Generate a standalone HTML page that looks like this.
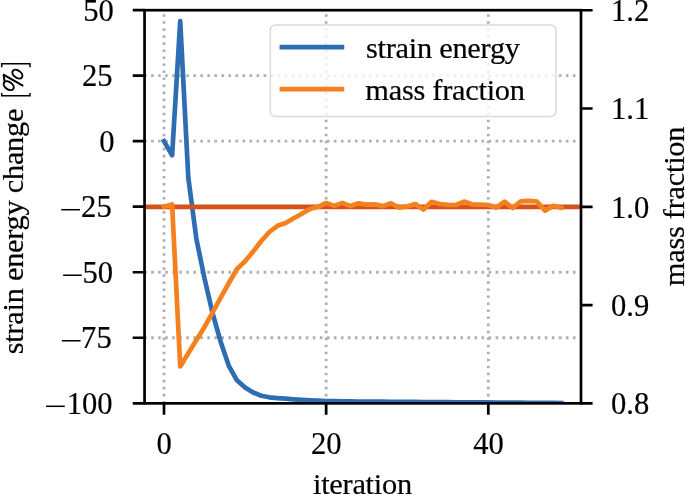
<!DOCTYPE html>
<html><head><meta charset="utf-8"><style>
html,body{margin:0;padding:0;background:#fff;overflow:hidden;}
svg{display:block;will-change:transform;}
text{font-family:"Liberation Serif",serif;fill:#000;stroke:#000;stroke-width:0.2px;}
.t{font-size:30.6px;}
.l{font-size:30.4px;letter-spacing:-0.27px;}
</style></head><body>
<svg width="685" height="495" viewBox="0 0 685 495">
<line x1="144.08" y1="75.67" x2="581.0" y2="75.67" stroke="#b0b0b0" stroke-width="2.8" stroke-dasharray="2.6 4.43"/>
<line x1="144.08" y1="141.20" x2="581.0" y2="141.20" stroke="#b0b0b0" stroke-width="2.8" stroke-dasharray="2.6 4.43"/>
<line x1="144.08" y1="206.72" x2="581.0" y2="206.72" stroke="#b0b0b0" stroke-width="2.8" stroke-dasharray="2.6 4.43"/>
<line x1="144.08" y1="272.25" x2="581.0" y2="272.25" stroke="#b0b0b0" stroke-width="2.8" stroke-dasharray="2.6 4.43"/>
<line x1="144.08" y1="337.77" x2="581.0" y2="337.77" stroke="#b0b0b0" stroke-width="2.8" stroke-dasharray="2.6 4.43"/>
<line x1="164.00" y1="403.48" x2="164.00" y2="10.2" stroke="#b0b0b0" stroke-width="2.8" stroke-dasharray="2.6 4.43"/>
<line x1="326.15" y1="403.48" x2="326.15" y2="10.2" stroke="#b0b0b0" stroke-width="2.8" stroke-dasharray="2.6 4.43"/>
<line x1="488.30" y1="403.48" x2="488.30" y2="10.2" stroke="#b0b0b0" stroke-width="2.8" stroke-dasharray="2.6 4.43"/>
<defs><clipPath id="ax"><rect x="144.1" y="10.2" width="437" height="393.3"/></clipPath></defs>
<g clip-path="url(#ax)">
<polyline points="164.00,141.20 172.11,155.30 180.22,21.20 188.32,177.90 196.43,239.20 204.54,278.50 212.64,313.50 220.75,342.00 228.86,366.00 236.97,380.30 245.07,387.40 253.18,392.50 261.29,395.80 269.40,397.30 277.50,398.20 285.61,398.70 293.72,399.30 301.83,399.80 309.94,400.30 318.04,400.70 326.15,401.00 334.26,401.20 342.37,401.40 350.47,401.46 358.58,401.52 366.69,401.58 374.79,401.64 382.90,401.70 391.01,401.76 399.12,401.81 407.23,401.87 415.33,401.93 423.44,401.99 431.55,402.05 439.65,402.11 447.76,402.17 455.87,402.23 463.98,402.29 472.08,402.35 480.19,402.41 488.30,402.47 496.41,402.53 504.51,402.59 512.62,402.64 520.73,402.70 528.84,402.76 536.94,402.82 545.05,402.88 553.16,402.94 561.27,403.00" fill="none" stroke="#2f6db3" stroke-width="4.7" stroke-linejoin="round" stroke-linecap="square"/>
<line x1="144.55" y1="206.8" x2="581.0" y2="206.8" stroke="#d6521b" stroke-width="4.7"/>
<polyline points="164.00,206.80 172.11,204.50 180.22,366.50 188.32,353.30 196.43,340.10 204.54,326.90 212.64,312.50 220.75,297.50 228.86,283.00 236.97,269.00 245.07,261.30 253.18,251.50 261.29,241.00 269.40,232.00 277.50,225.80 285.61,223.00 293.72,218.20 301.83,213.80 309.94,209.00 318.04,206.80 326.15,203.00 334.26,205.85 342.37,202.85 350.47,206.10 358.58,203.35 366.69,204.60 374.79,204.40 382.90,206.10 391.01,203.30 399.12,207.70 407.23,206.50 415.33,204.00 423.44,209.60 431.55,201.80 439.65,204.00 447.76,204.80 455.87,205.00 463.98,201.60 472.08,204.30 480.19,204.60 488.30,205.00 496.41,207.70 504.51,201.60 512.62,208.00 520.73,201.30 528.84,200.90 536.94,201.50 545.05,210.60 553.16,205.90 561.27,207.70" fill="none" stroke="#f5801e" stroke-width="4.7" stroke-linejoin="round" stroke-linecap="square"/>
</g>
<rect x="144.55" y="10.2" width="436.45" height="393.15" fill="none" stroke="#000" stroke-width="2.7"/>
<path d="M132.7 10.15H144.55 M132.7 75.67H144.55 M132.7 141.20H144.55 M132.7 206.72H144.55 M132.7 272.25H144.55 M132.7 337.77H144.55 M132.7 403.30H144.55 M581.0 10.25H592.6 M581.0 108.52H592.6 M581.0 206.80H592.6 M581.0 305.07H592.6 M581.0 403.35H592.6 M164.00 403.35V414.7 M326.15 403.35V414.7 M488.30 403.35V414.7" stroke="#000" stroke-width="2.7" fill="none"/>
<rect x="270.3" y="25" width="285.7" height="91.5" rx="5" ry="5" fill="#fff" fill-opacity="0.8" stroke="#dadada" stroke-width="1.5"/>
<line x1="281.9" y1="47.1" x2="341.9" y2="47.1" stroke="#2f6db3" stroke-width="4.7" stroke-linecap="square"/>
<line x1="281.9" y1="89.2" x2="341.9" y2="89.2" stroke="#f5801e" stroke-width="4.7" stroke-linecap="square"/>
<text class="l" x="366.0" y="57.6">strain energy</text>
<text class="l" x="365.3" y="99.6">mass fraction</text>
<text class="t" x="113.86" y="20.55" text-anchor="end" >50</text>
<text class="t" x="112.49" y="86.07" text-anchor="end" >25</text>
<text class="t" x="114.56" y="151.60" text-anchor="end" >0</text>
<text class="t" x="111.69" y="217.12" text-anchor="end" >25</text>
<rect x="61.24" y="208.97" width="18.7" height="1.5" fill="#000"/>
<text class="t" x="113.16" y="282.65" text-anchor="end" >50</text>
<rect x="63.14" y="274.50" width="18.7" height="1.5" fill="#000"/>
<text class="t" x="111.69" y="348.17" text-anchor="end" >75</text>
<rect x="61.91" y="340.02" width="18.7" height="1.5" fill="#000"/>
<text class="t" x="112.56" y="413.70" text-anchor="end" >100</text>
<rect x="46.06" y="405.55" width="18.7" height="1.5" fill="#000"/>
<text class="t" x="611.00" y="21.05" text-anchor="start" >1.2</text>
<text class="t" x="611.00" y="119.32" text-anchor="start" >1.1</text>
<text class="t" x="611.00" y="217.60" text-anchor="start" >1.0</text>
<text class="t" x="611.00" y="315.88" text-anchor="start" >0.9</text>
<text class="t" x="611.00" y="414.15" text-anchor="start" >0.8</text>
<text class="t" x="164.20" y="453.60" text-anchor="middle" >0</text>
<text class="t" x="326.35" y="453.60" text-anchor="middle" >20</text>
<text class="t" x="488.50" y="453.60" text-anchor="middle" >40</text>
<text class="l" x="362.40" y="493.90" text-anchor="middle" >iteration</text>
<text class="l" x="23.40" y="354.30" text-anchor="start" transform="rotate(-90 23.4 354.3)">strain energy change</text>
<path d="M1.7 67.3V63.75H30.0V67.3 M1.7 93.1V95.75H30.0V93.1" fill="none" stroke="#000" stroke-width="1.5"/>
<g fill="none" stroke="#000" stroke-width="2.0"><ellipse cx="8.7" cy="85.7" rx="5.6" ry="3.6" transform="rotate(36 8.7 85.7)"/><ellipse cx="17.4" cy="74.1" rx="5.6" ry="3.6" transform="rotate(36 17.4 74.1)"/><path d="M3.0 74.3L23.2 85.8M3.6 74.6L4.6 81.5"/></g>
<text class="l" x="684.00" y="206.50" text-anchor="middle" transform="rotate(-90 684.0 206.5)">mass fraction</text>
</svg>
</body></html>
